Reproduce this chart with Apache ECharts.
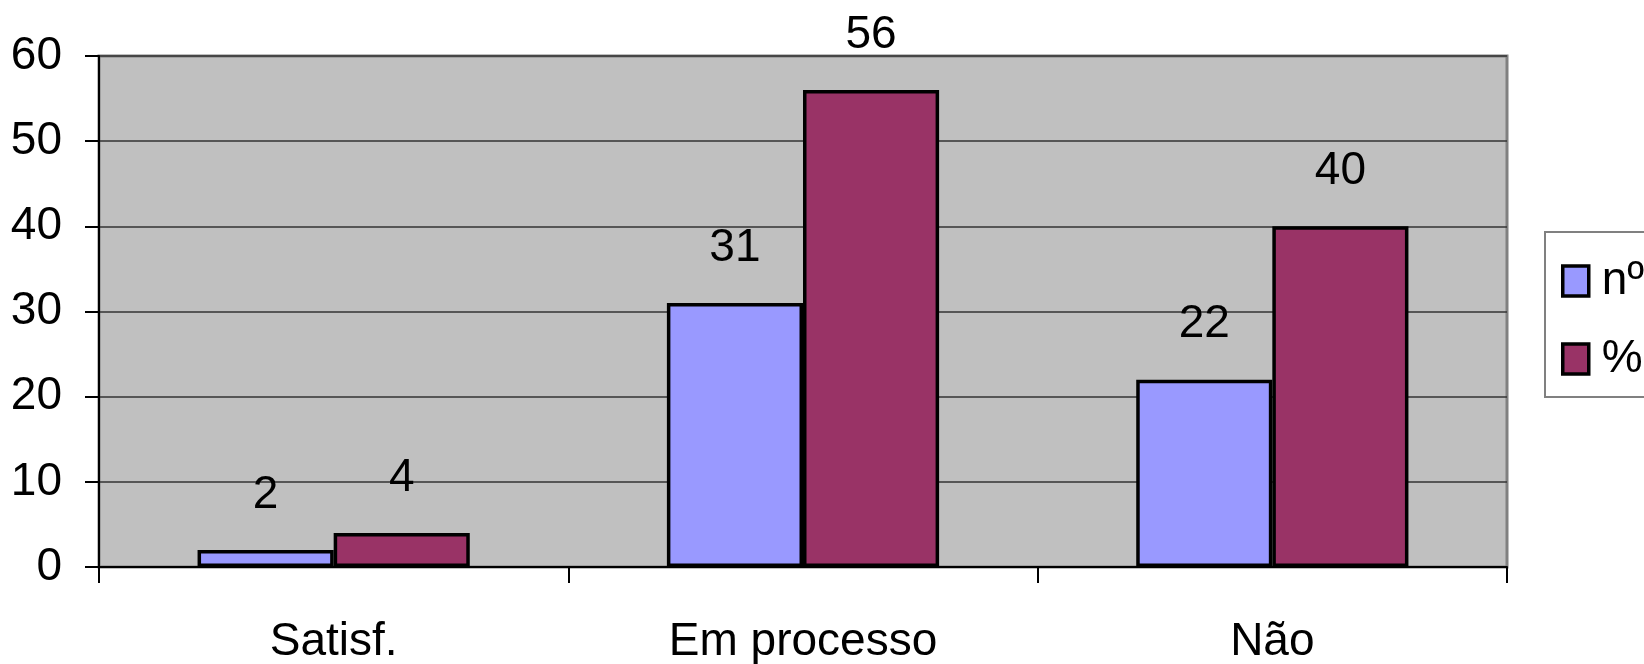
<!DOCTYPE html>
<html>
<head>
<meta charset="utf-8">
<script src="https://cdn.jsdelivr.net/npm/echarts@6/dist/echarts.min.js"></script>
<style>
html,body{margin:0;padding:0;background:#fff;}
#chart{width:1644px;height:664px;}
</style>
</head>
<body>
<div id="chart"></div>
<script>
const categories = ['Satisf.', 'Em processo', 'Não'];
const seriesNames = ['nº', '%'];
const valuesN = [2, 31, 22];
const valuesPct = [4, 56, 40];

const FONT = '"Liberation Sans", Arial, sans-serif';
const chart = echarts.init(document.getElementById('chart'), null, {renderer: 'canvas'});
const labelStyle = {show: true, position: 'top', distance: 32, color: '#000', fontFamily: FONT, fontSize: 46};
chart.setOption({
  animation: false,
  backgroundColor: '#fff',
  grid: {left: 99, right: 137, top: 56, bottom: 97, outerBoundsMode: 'none', containLabel: false,
         show: true, backgroundColor: '#c0c0c0', borderColor: '#808080', borderWidth: 3},
  legend: {
    orient: 'vertical', left: 1545, top: 232, padding: [26, 30, 15, 16],
    backgroundColor: '#fff', borderColor: '#808080', borderWidth: 2,
    icon: 'rect', itemWidth: 26, itemHeight: 30, itemGap: 32,
    itemStyle: {borderWidth: 3.5},
    textStyle: {fontFamily: FONT, fontSize: 46, color: '#000', padding: [0,0,0,8], lineHeight: 46},
    data: seriesNames
  },
  xAxis: {
    type: 'category', data: categories,
    axisLine: {lineStyle: {color: '#000', width: 2}},
    axisTick: {show: true, length: 16, lineStyle: {color: '#000', width: 2}},
    axisLabel: {fontFamily: FONT, fontSize: 46, color: '#000', margin: 52},
    splitLine: {show: false}
  },
  yAxis: {
    type: 'value', min: 0, max: 60, interval: 10,
    axisLine: {show: true, lineStyle: {color: '#000', width: 2}},
    axisTick: {show: true, length: 14, inside: false, lineStyle: {color: '#000', width: 2}},
    axisLabel: {fontFamily: FONT, fontSize: 46, color: '#000', margin: 37},
    splitLine: {show: true, lineStyle: {color: '#333', width: 1.5}}
  },
  series: [
    {name: seriesNames[0], type: 'bar', data: valuesN, barGap: '0%', barCategoryGap: '42%',
     itemStyle: {color: '#9999ff', borderColor: '#000', borderWidth: 3.5}, label: labelStyle},
    {name: seriesNames[1], type: 'bar', data: valuesPct, barGap: '0%', barCategoryGap: '42%',
     itemStyle: {color: '#993366', borderColor: '#000', borderWidth: 3.5}, label: labelStyle}
  ]
});
</script>
</body>
</html>
